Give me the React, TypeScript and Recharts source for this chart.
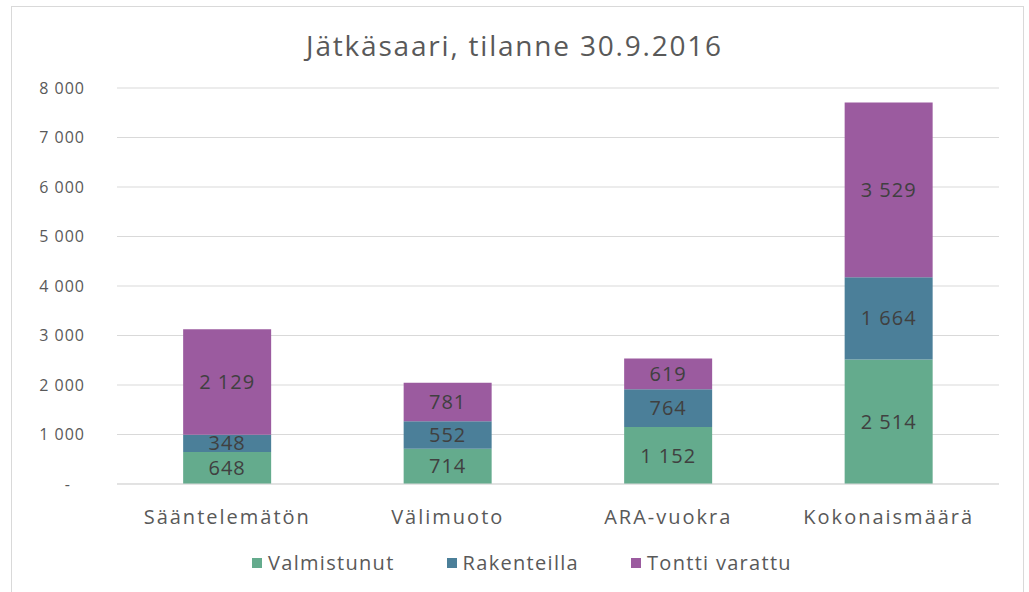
import { BarChart, Bar, XAxis, YAxis, CartesianGrid, Legend, LabelList } from "recharts";

const categories = ["Sääntelemätön", "Välimuoto", "ARA-vuokra", "Kokonaismäärä"];
const valmistunut = [648, 714, 1152, 2514];
const rakenteilla = [348, 552, 764, 1664];
const tonttiVarattu = [2129, 781, 619, 3529];
const yTicks = [0, 1000, 2000, 3000, 4000, 5000, 6000, 7000, 8000];

const series = [
  { key: "valmistunut", name: "Valmistunut", color: "#64ab8d" },
  { key: "rakenteilla", name: "Rakenteilla", color: "#4b7f99" },
  { key: "tontti", name: "Tontti varattu", color: "#9b5b9f" },
];

const data = categories.map((name, i) => ({
  name,
  valmistunut: valmistunut[i],
  rakenteilla: rakenteilla[i],
  tontti: tonttiVarattu[i],
}));

const FONT = "'Open Sans', Lato, sans-serif";

function fmt(v: number) {
  return String(v).replace(/\B(?=(\d{3})+(?!\d))/g, " ");
}

function YTick(props: any) {
  const { x, y, payload } = props;
  const zero = payload.value === 0;
  return (
    <text
      x={zero ? x - 14 : x}
      y={y}
      dy="0.35em"
      textAnchor="end"
      fill="#595959"
      fontSize={16}
      fontFamily={FONT}
      style={{ letterSpacing: 1 }}
    >
      {zero ? "-" : fmt(payload.value)}
    </text>
  );
}

function LegendContent() {
  return (
    <div style={{ display: "flex", justifyContent: "center", gap: 52, fontFamily: FONT, fontSize: 20, color: "#595959", letterSpacing: 1.3 }}>
      {series.map((s) => (
        <span key={s.key} style={{ display: "flex", alignItems: "center" }}>
          <span style={{ width: 10, height: 10, background: s.color, display: "inline-block", marginRight: 6 }} />
          {s.name}
        </span>
      ))}
    </div>
  );
}

export default function App() {
  return (
    <div style={{ position: "absolute", left: 0, top: 0, width: 1029, height: 592, background: "#fff", overflow: "hidden" }}>
      <div style={{ position: "absolute", left: 11, top: 6, width: 1011, height: 620, border: "1px solid #d9d9d9" }} />
      <div
        style={{
          position: "absolute",
          top: 26,
          left: 0,
          width: 1029,
          textAlign: "center",
          fontFamily: FONT,
          fontSize: 28,
          color: "#595959",
          letterSpacing: 1.8,
        }}
      >
        Jätkäsaari, tilanne 30.9.2016
      </div>
      <div style={{ position: "absolute", left: 0, top: 0 }}>
        <BarChart
          width={1029}
          height={592}
          data={data}
          margin={{ top: 88, right: 30, left: 0, bottom: 51 }}
          barCategoryGap="30%"
        >
          <CartesianGrid vertical={false} stroke="#d9d9d9" />
          <XAxis
            dataKey="name"
            axisLine={{ stroke: "#d9d9d9" }}
            tickLine={false}
            tickMargin={20}
            height={30}
            tick={{ fill: "#595959", fontSize: 20, fontFamily: FONT, style: { letterSpacing: 2 } }}
          />
          <YAxis
            width={117}
            domain={[0, 8000]}
            ticks={yTicks}
            axisLine={false}
            tickLine={false}
            tickMargin={26}
            tick={<YTick />}
          />
          <Legend
            verticalAlign="bottom"
            content={<LegendContent />}
            wrapperStyle={{ left: 0, width: 1044, bottom: 16 }}
          />
          {series.map((s) => (
            <Bar key={s.key} dataKey={s.key} name={s.name} stackId="a" fill={s.color} isAnimationActive={false}>
              <LabelList
                dataKey={s.key}
                position="center"
                fill="#404040"
                fontSize={20}
                fontFamily={FONT}
                style={{ letterSpacing: 1 }}
                formatter={(v: any) => fmt(v)}
              />
            </Bar>
          ))}
        </BarChart>
      </div>
    </div>
  );
}
